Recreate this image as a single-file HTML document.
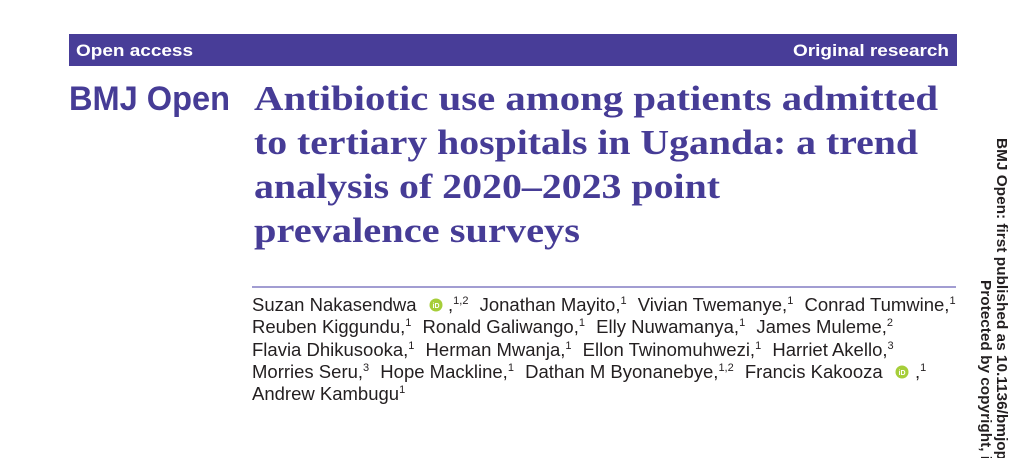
<!DOCTYPE html>
<html>
<head>
<meta charset="utf-8">
<style>
  html, body { margin:0; padding:0; background:#ffffff; }
  body { width:1024px; height:458px; overflow:hidden; }
  svg { display:block; }
</style>
</head>
<body>
<svg width="1024" height="458" viewBox="0 0 1024 458" xmlns="http://www.w3.org/2000/svg">
  <rect x="0" y="0" width="1024" height="458" fill="#ffffff"/>

  <!-- Banner -->
  <rect x="69" y="34" width="888" height="32" fill="#483d98"/>
  <text x="76" y="56" font-family="Liberation Sans, Arial, sans-serif" font-weight="bold" font-size="16.5" fill="#ffffff" textLength="117" lengthAdjust="spacingAndGlyphs">Open access</text>
  <text x="793" y="56" font-family="Liberation Sans, Arial, sans-serif" font-weight="bold" font-size="16.5" fill="#ffffff" textLength="156" lengthAdjust="spacingAndGlyphs">Original research</text>

  <!-- Journal name -->
  <text x="69" y="110" font-family="Liberation Sans, Arial, sans-serif" font-weight="bold" font-size="34" fill="#463c96" textLength="161" lengthAdjust="spacingAndGlyphs">BMJ Open</text>

  <!-- Title -->
  <g font-family="Liberation Serif, 'Times New Roman', serif" font-weight="bold" font-size="35" fill="#463c96">
    <text x="254" y="110" textLength="684" lengthAdjust="spacingAndGlyphs">Antibiotic use among patients admitted</text>
    <text x="254" y="154" textLength="664" lengthAdjust="spacingAndGlyphs">to tertiary hospitals in Uganda: a trend</text>
    <text x="254" y="198" textLength="466" lengthAdjust="spacingAndGlyphs">analysis of 2020–2023 point</text>
    <text x="254" y="242" textLength="326" lengthAdjust="spacingAndGlyphs">prevalence surveys</text>
  </g>

  <!-- Rule -->
  <rect x="252" y="286" width="704" height="2" fill="#a29dd2"/>

  <!-- Authors -->
  <g font-family="Liberation Sans, Arial, sans-serif" font-size="18.5" fill="#231f20">
    <text x="252" y="311">Suzan Nakasendwa</text>
    <text x="448" y="311">,<tspan font-size="11" dy="-7">1,2</tspan><tspan dy="7" dx="6"> Jonathan Mayito,</tspan><tspan font-size="11" dy="-7">1</tspan><tspan dy="7" dx="6"> Vivian Twemanye,</tspan><tspan font-size="11" dy="-7">1</tspan><tspan dy="7" dx="6"> Conrad Tumwine,</tspan><tspan font-size="11" dy="-7">1</tspan></text>

    <text x="252" y="333">Reuben Kiggundu,<tspan font-size="11" dy="-7">1</tspan><tspan dy="7" dx="6"> Ronald Galiwango,</tspan><tspan font-size="11" dy="-7">1</tspan><tspan dy="7" dx="6"> Elly Nuwamanya,</tspan><tspan font-size="11" dy="-7">1</tspan><tspan dy="7" dx="6"> James Muleme,</tspan><tspan font-size="11" dy="-7">2</tspan></text>

    <text x="252" y="356">Flavia Dhikusooka,<tspan font-size="11" dy="-7">1</tspan><tspan dy="7" dx="6"> Herman Mwanja,</tspan><tspan font-size="11" dy="-7">1</tspan><tspan dy="7" dx="6"> Ellon Twinomuhwezi,</tspan><tspan font-size="11" dy="-7">1</tspan><tspan dy="7" dx="6"> Harriet Akello,</tspan><tspan font-size="11" dy="-7">3</tspan></text>

    <text x="252" y="378">Morries Seru,<tspan font-size="11" dy="-7">3</tspan><tspan dy="7" dx="6"> Hope Mackline,</tspan><tspan font-size="11" dy="-7">1</tspan><tspan dy="7" dx="6"> Dathan M Byonanebye,</tspan><tspan font-size="11" dy="-7">1,2</tspan><tspan dy="7" dx="6"> Francis Kakooza</tspan></text>
    <text x="915" y="378">,<tspan font-size="11" dy="-7">1</tspan></text>

    <text x="252" y="400">Andrew Kambugu<tspan font-size="11" dy="-7">1</tspan></text>
  </g>

  <!-- ORCID icons -->
  <g>
    <circle cx="436" cy="305" r="6.5" fill="#a6ce39"/>
    <text x="436" y="308" text-anchor="middle" font-family="Liberation Sans, Arial, sans-serif" font-weight="bold" font-size="7" fill="#ffffff">iD</text>
    <circle cx="902" cy="372" r="6.5" fill="#a6ce39"/>
    <text x="902" y="375" text-anchor="middle" font-family="Liberation Sans, Arial, sans-serif" font-weight="bold" font-size="7" fill="#ffffff">iD</text>
  </g>

  <!-- Rotated side text -->
  <g font-family="Liberation Sans, Arial, sans-serif" font-weight="bold" font-size="14.5" fill="#231f20">
    <text transform="translate(997,138) rotate(90)" textLength="322" lengthAdjust="spacingAndGlyphs">BMJ Open: first published as 10.1136/bmjop</text>
    <text transform="translate(981,280) rotate(90)" textLength="180" lengthAdjust="spacingAndGlyphs">Protected by copyright, i</text>
  </g>
</svg>
</body>
</html>
